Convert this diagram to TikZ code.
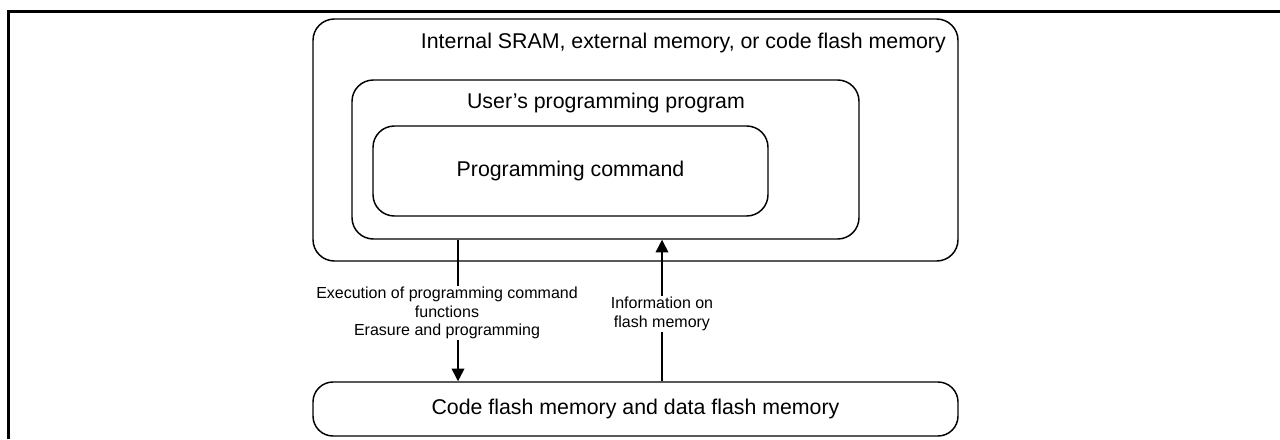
\documentclass[tikz,border=0pt]{standalone}
\usepackage{fontspec}
\setmainfont{Liberation Sans}
\usetikzlibrary{arrows.meta}
\def\px{0.75pt}
\begin{document}
\begin{tikzpicture}[x=0.75pt,y=-0.75pt,
  box/.style={draw=black,line width=1.1pt,rounded corners=16pt,inner sep=0pt},
  maintext/.style={inner sep=0pt,font=\fontsize{16}{19}\selectfont},
  lbl/.style={inner sep=1pt,fill=white,align=center,font=\fontsize{12}{13.9}\selectfont},
  arr/.style={line width=1.1pt,-{Triangle[width=9.5pt,length=9.5pt]}},
  frameline/.style={line width=2.25pt}]
\useasboundingbox (0,0) rectangle (1280,439);
% frame
\coordinate (fr0) at (8.7,439);
\coordinate (fr1) at (8.7,11);
\coordinate (fr2) at (1280,11);
\draw[frameline] (fr0) -- (fr1) -- (fr2);
% boxes
\node[box,minimum width=645*\px,minimum height=242*\px] (outer) at (635.5,140) {};
\node[box,minimum width=507*\px,minimum height=159*\px] (mid) at (605.5,159.5) {};
\node[box,minimum width=395*\px,minimum height=90*\px] (inner) at (570.5,171) {};
\node[box,rounded corners=15pt,minimum width=645*\px,minimum height=54*\px] (bot) at (635.5,409) {};
% texts
\node[maintext,anchor=east] (tout) at (946,43) {Internal SRAM, external memory, or code flash memory};
\node[maintext] (tmid) at (606,103) {User’s programming program};
\node[maintext] (tinner) at (inner.center) {Programming command};
\node[maintext] (tbot) at (bot.center) {Code flash memory and data flash memory};
% arrows
\coordinate (ax1) at (458,0);
\coordinate (ax2) at (662,0);
\draw[arr] (ax1 |- mid.south) -- (ax1 |- bot.north);
\draw[arr] (ax2 |- bot.north) -- (ax2 |- mid.south);
% labels
\node[lbl] (l1) at (447,313) {Execution of programming command\\functions\\Erasure and programming};
\node[lbl] (l2) at (662,314) {Information on\\flash memory};
\end{tikzpicture}
\end{document}
